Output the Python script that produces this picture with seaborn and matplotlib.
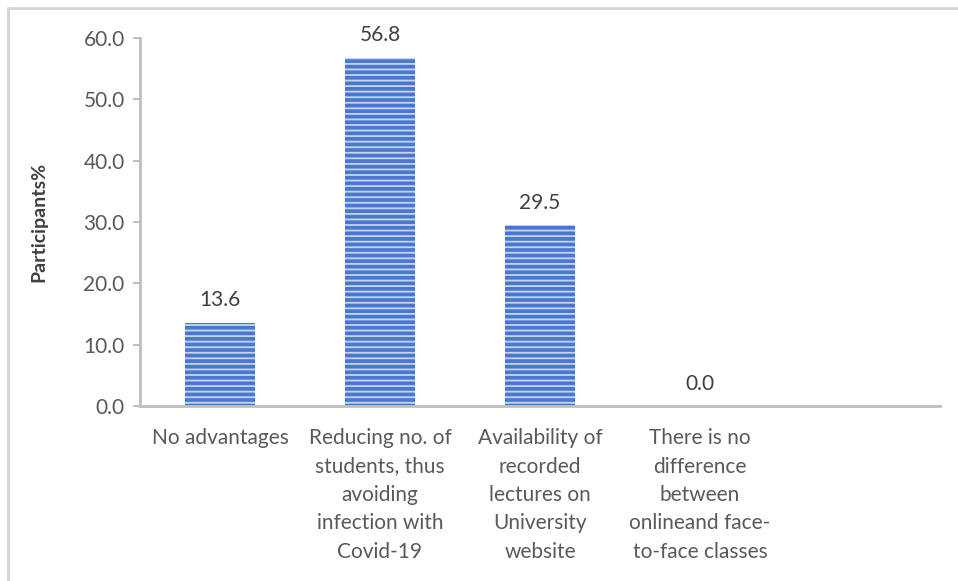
import matplotlib
matplotlib.use("Agg")
import matplotlib.pyplot as plt
import seaborn as sns
import pandas as pd
from matplotlib.lines import Line2D

categories = [
    "No advantages",
    "Reducing no. of\nstudents, thus\navoiding\ninfection with\nCovid-19",
    "Availability of\nrecorded\nlectures on\nUniversity\nwebsite",
    "There is no\ndifference\nbetween\nonlineand face-\nto-face classes",
]
values = [13.6, 56.8, 29.5, 0.0]
value_labels = ["13.6", "56.8", "29.5", "0.0"]
yticks = [0, 10, 20, 30, 40, 50, 60]

sns.set_theme(style="white")
plt.rcParams["font.family"] = ["Lato", "DejaVu Sans"]
plt.rcParams["hatch.linewidth"] = 1.3

df = pd.DataFrame({"category": categories, "value": values})

fig = plt.figure(figsize=(9.58, 5.81), dpi=100)
ax = fig.add_axes([140 / 958, 1 - 406 / 581, 800 / 958, (406 - 38) / 581])

sns.barplot(data=df, x="category", y="value", order=categories,
            color="#4472C4", width=0.44, ax=ax, saturation=1)

for p in ax.patches:
    p.set_facecolor("#4A78CF")
    p.set_edgecolor("#C5D4F2")
    p.set_hatch("---")
    p.set_linewidth(0)

for i, (v, lab) in enumerate(zip(values, value_labels)):
    ax.annotate(lab, (i, v), xytext=(0, 9), textcoords="offset points",
                ha="center", va="bottom", fontsize=15, color="#404040")

ax.set_xlim(-0.5, 4.5)
ax.set_ylim(0, 60)
ax.set_yticks(yticks)
ax.set_yticklabels([f"{t:.1f}" for t in yticks], fontsize=15, color="#595959")
ax.tick_params(axis="y", which="major", left=True, length=5, width=1.5,
               color="#BFBFBF", pad=6)
ax.tick_params(axis="x", bottom=False, pad=10)
for lab in ax.get_xticklabels():
    lab.set_fontsize(15)
    lab.set_color("#595959")
    lab.set_linespacing(1.52)
    lab.set_verticalalignment("top")

ax.set_xlabel("")
ax.set_ylabel("Participants%", fontsize=14, fontweight="bold", color="#404040",
              labelpad=26)

for side in ["top", "right"]:
    ax.spines[side].set_visible(False)
for side in ["left", "bottom"]:
    ax.spines[side].set_color("#BFBFBF")
    ax.spines[side].set_linewidth(2)

# light frame around the chart area
fig.add_artist(Line2D([8 / 958, 1.0], [1 - 8 / 581, 1 - 8 / 581],
                      transform=fig.transFigure, color="#D4D4D4", lw=2))
fig.add_artist(Line2D([8 / 958, 8 / 958], [0.0, 1 - 8 / 581],
                      transform=fig.transFigure, color="#D4D4D4", lw=2))

fig.savefig("out.png", dpi=100, facecolor="white")
